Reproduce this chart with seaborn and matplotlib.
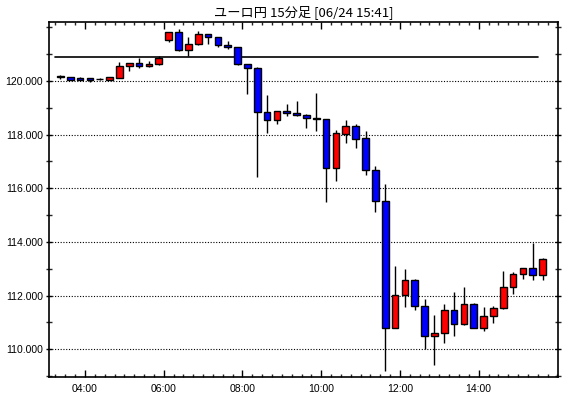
import numpy as np
import pandas as pd
import matplotlib
matplotlib.use("Agg")
import matplotlib.pyplot as plt
import seaborn as sns
from matplotlib.ticker import FixedLocator, MultipleLocator, FuncFormatter

# ---- data -------------------------------------------------------------
title = "ユーロ円 15分足 [06/24 15:41]"
start_time = "03:15"          # first 15-minute bar
n_bars = 50
opens = [120.15, 120.14, 120.12, 120.10, 120.06, 120.05, 120.12, 120.55, 120.66, 120.55,
         120.62, 121.52, 121.81, 121.14, 121.37, 121.74, 121.63, 121.33, 121.26, 120.62,
         120.47, 118.83, 118.54, 118.87, 118.80, 118.72, 118.60, 118.58, 116.77, 118.04,
         118.32, 117.86, 116.67, 115.52, 110.80, 112.01, 112.57, 111.60, 110.51, 110.60,
         111.45, 110.95, 111.68, 110.80, 111.23, 111.53, 112.31, 112.80, 113.02, 112.76]
highs = [120.24, 120.15, 120.14, 120.10, 120.10, 120.15, 120.71, 120.68, 120.86, 120.76,
         120.93, 121.83, 121.93, 121.63, 121.85, 121.75, 121.64, 121.48, 121.27, 120.63,
         120.51, 119.47, 118.88, 119.13, 119.25, 118.76, 119.54, 118.59, 118.16, 118.54,
         118.40, 118.13, 116.82, 116.16, 113.10, 112.99, 112.61, 111.87, 111.28, 111.69,
         112.14, 112.32, 111.71, 111.58, 111.60, 112.92, 112.89, 113.03, 113.96, 113.39]
lows = [120.08, 120.03, 120.03, 119.98, 120.03, 120.03, 120.10, 120.38, 120.50, 120.54,
        120.60, 121.47, 121.13, 120.93, 121.36, 121.37, 121.26, 121.18, 120.58, 119.53,
        116.43, 118.07, 118.39, 118.68, 118.68, 118.26, 118.15, 115.50, 116.29, 117.70,
        117.51, 116.51, 115.13, 109.20, 110.79, 111.59, 111.48, 110.00, 109.42, 110.25,
        110.51, 110.89, 110.78, 110.69, 110.99, 111.52, 112.06, 112.63, 112.59, 112.59]
closes = [120.15, 120.05, 120.05, 120.05, 120.06, 120.14, 120.56, 120.66, 120.55, 120.62,
          120.87, 121.81, 121.14, 121.37, 121.74, 121.63, 121.33, 121.26, 120.62, 120.47,
          118.83, 118.54, 118.87, 118.80, 118.72, 118.61, 118.58, 116.77, 118.05, 118.32,
          117.85, 116.67, 115.52, 110.80, 112.01, 112.57, 111.60, 110.51, 110.60, 111.45,
          110.95, 111.68, 110.80, 111.23, 111.53, 112.31, 112.80, 113.02, 112.76, 113.35]
ref_level = 120.885
y_ticks = [110.0, 112.0, 114.0, 116.0, 118.0, 120.0]
x_tick_labels = ["04:00", "06:00", "08:00", "10:00", "12:00", "14:00"]

# ---- frame ------------------------------------------------------------
times = pd.date_range("2000-01-01 " + start_time, periods=n_bars, freq="15min")
hours = times.hour + times.minute / 60.0
df = pd.DataFrame({"t": hours, "open": opens, "high": highs, "low": lows, "close": closes})
df["center"] = df["t"] + 0.125
df["up"] = df["close"] >= df["open"]
df["bottom"] = df[["open", "close"]].min(axis=1)
df["height"] = (df["close"] - df["open"]).abs().clip(lower=0.03)

sns.set_style("white")
plt.rcParams["font.family"] = ["Liberation Sans", "DejaVu Sans"]

fig = plt.figure(figsize=(5.70, 3.98), dpi=100)
ax = fig.add_axes([49 / 570, 21 / 398, 509 / 570, 355 / 398])
fig.patch.set_facecolor("white")
ax.set_facecolor("white")

# gridlines
for v in y_ticks:
    ax.axhline(v, color="black", lw=0.8, ls=(0, (1, 1.5)), zorder=1)

# reference level
sns.lineplot(x=[df["t"].iloc[0], df["t"].iloc[-1]], y=[ref_level, ref_level],
             ax=ax, color="black", lw=1.2, zorder=2)

# wicks
ax.vlines(df["center"], df["low"], df["high"], color="black", lw=1.0, zorder=3)
# bodies
colors = np.where(df["up"], "#FF0000", "#0000FF")
ax.bar(df["center"], df["height"], bottom=df["bottom"], width=0.17,
       color=colors, edgecolor="black", linewidth=1.0, zorder=4)

ax.set_xlim(3.085, 16.015)
ax.set_ylim(108.967, 122.199)

ax.yaxis.set_major_locator(FixedLocator(y_ticks))
ax.yaxis.set_minor_locator(MultipleLocator(1.0))
ax.yaxis.set_major_formatter(FuncFormatter(lambda v, p: f"{v:.3f}"))

xt = [int(s[:2]) for s in x_tick_labels]
ax.set_xticks(xt)
ax.set_xticklabels(x_tick_labels)
ax.xaxis.set_minor_locator(MultipleLocator(0.25))

ax.tick_params(axis="x", which="major", direction="in", length=5, width=1,
               top=True, bottom=True, labelsize=7.5, pad=5, colors="black")
ax.tick_params(axis="x", which="minor", direction="in", length=2.5, width=1,
               top=True, bottom=True)
ax.tick_params(axis="y", which="major", direction="inout", length=5, width=1,
               left=True, right=True, labelsize=7.5, pad=2, colors="black")
ax.tick_params(axis="y", which="minor", direction="inout", length=4, width=1,
               left=True, right=True)
for s in ax.spines.values():
    s.set_color("black")
    s.set_linewidth(1.2)
ax.set_xlabel("")
ax.set_ylabel("")

fig.text(303.5 / 570, 1 - 12 / 398, title, ha="center", va="center", fontsize=9.5,
         family=["Noto Sans CJK JP", "DejaVu Sans"], color="black")

fig.savefig("out.png", dpi=100, facecolor="white")
